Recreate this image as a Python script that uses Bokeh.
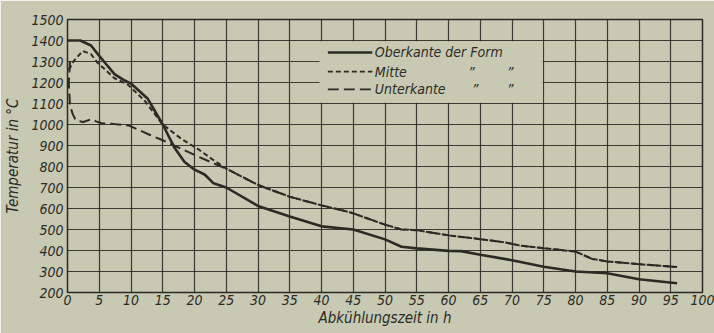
from bokeh.plotting import figure
from bokeh.models import Range1d, FixedTicker
from bokeh.core.properties import value
from bokeh.embed import file_html
from bokeh.resources import INLINE

# ---- data ----
hours_ober = [0, 2, 3.7, 5, 6.1, 7.4, 8.7, 10, 12.6, 15, 16.8, 18.4, 20, 21.6, 23, 25,
              30, 35, 40, 45, 50, 52.6, 55, 60, 62, 65, 70, 75, 80, 85, 90, 96]
temp_ober = [1400, 1400, 1376, 1327, 1287, 1240, 1215, 1195, 1124, 1000, 892, 823, 785, 762, 720, 700,
             612, 562, 515, 500, 453, 418, 410, 398, 397, 380, 354, 323, 300, 292, 263, 244]

hours_mitte = [0.2, 1, 2.4, 3.7, 4.7, 5.8, 7.4, 9.5, 12.1, 15, 18, 20.7, 23, 25,
               30, 35, 40, 43.2, 45, 50, 52.6, 55, 60, 65, 69, 71.4, 75, 80, 82.6, 85, 90, 96]
temp_mitte = [1260, 1303, 1350, 1335, 1295, 1265, 1220, 1190, 1115, 1000, 930, 880, 830, 790,
              712, 656, 615, 592, 577, 523, 500, 497, 472, 454, 438, 423, 411, 395, 360, 348, 335, 321]

hours_unter = [0.4, 0.2, 0.4, 0.8, 1.3, 2.5, 3.7, 4.5, 5.5, 7.1, 9.7, 13, 15, 20, 23, 25,
               30, 35, 40, 43.2, 45, 50, 52.6, 55, 60, 65, 69, 71.4, 75, 80, 82.6, 85, 90, 96]
temp_unter = [1300, 1200, 1090, 1052, 1019, 1012, 1025, 1015, 1005, 1003, 995, 950, 925, 855, 815, 790,
              712, 656, 615, 592, 577, 523, 500, 497, 472, 454, 438, 423, 411, 395, 360, 348, 335, 321]

x_ticks = list(range(0, 101, 5))
y_ticks = list(range(200, 1501, 100))
legend_labels = ["Oberkante der Form", "Mitte", "Unterkante"]
ditto = "\u201D"

BG = "#c8c9b3"
INK = "#2b2b25"
FONT = "DejaVu Sans Condensed"

p = figure(width=714, height=333, output_backend="svg", toolbar_location=None,
           x_range=Range1d(0, 100), y_range=Range1d(200, 1500),
           min_border_left=67, min_border_right=12, min_border_top=19, min_border_bottom=41)
p.background_fill_color = BG
p.border_fill_color = BG
p.outline_line_color = INK
p.outline_line_width = 1.5

p.xgrid.ticker = FixedTicker(ticks=x_ticks)
p.ygrid.ticker = FixedTicker(ticks=y_ticks)
for g in (p.xgrid, p.ygrid):
    g.grid_line_color = INK
    g.grid_line_width = 1.2
    g.grid_line_alpha = 0.9

p.xaxis.ticker = FixedTicker(ticks=x_ticks)
p.yaxis.ticker = FixedTicker(ticks=y_ticks)
for ax in (p.xaxis, p.yaxis):
    ax.axis_line_color = None
    ax.major_tick_line_color = None
    ax.minor_tick_line_color = None
    ax.major_tick_out = 0
    ax.major_tick_in = 0
    ax.major_label_text_font = FONT
    ax.major_label_text_font_style = "italic"
    ax.major_label_text_font_size = "14px"
    ax.major_label_text_color = INK
    ax.axis_label_text_font = FONT
    ax.axis_label_text_font_style = "italic"
    ax.axis_label_text_font_size = "15px"
    ax.axis_label_text_color = INK
p.xaxis.major_label_standoff = 2
p.xaxis.axis_label_standoff = 1
p.yaxis.major_label_standoff = 4
p.yaxis.axis_label_standoff = 6
p.xaxis.axis_label = "Abkühlungszeit in h"
p.yaxis.axis_label = "Temperatur in °C"

# curves
p.line(hours_ober, temp_ober, line_color=INK, line_width=2.6)
p.line(hours_mitte, temp_mitte, line_color=INK, line_width=2.0, line_dash="5 3")
p.line(hours_unter, temp_unter, line_color=INK, line_width=2.0, line_dash="11 5")

# legend panel (covers the grid)
p.quad(left=39.7, right=74.85, bottom=1104, top=1396, fill_color=BG, line_color=None)
rows_y = [1343, 1252, 1167]
p.line([41, 48], [rows_y[0]] * 2, line_color=INK, line_width=2.4)
p.line([41, 48], [rows_y[1]] * 2, line_color=INK, line_width=1.8, line_dash="5 3")
p.line([41, 48], [rows_y[2]] * 2, line_color=INK, line_width=1.8, line_dash="11 5")
p.text(x=[48.4] * 3, y=rows_y, text=legend_labels, text_font=value(FONT),
       text_font_style="italic", text_font_size="14px", text_color=INK,
       text_baseline="middle", text_align="left")
p.text(x=[63.1, 69.2, 63.7, 69.2], y=[rows_y[1], rows_y[1], rows_y[2], rows_y[2]],
       text=[ditto] * 4, text_font=value(FONT), text_font_style="italic",
       text_font_size="14px", text_color=INK, text_baseline="middle", text_align="left")

open("out.html", "w").write(file_html(p, INLINE))
